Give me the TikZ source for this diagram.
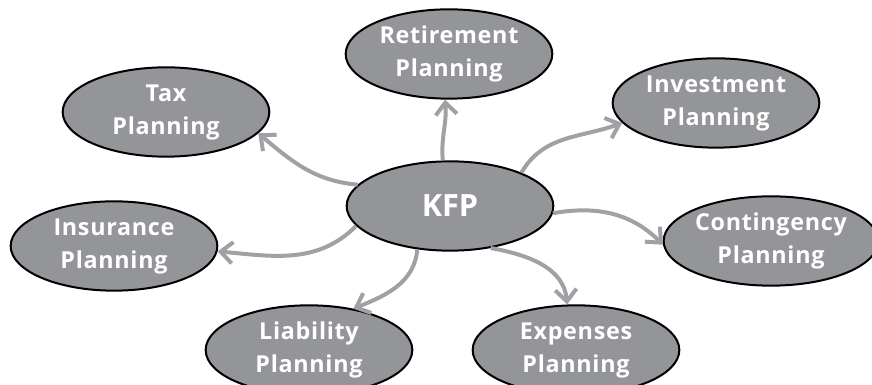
\documentclass[tikz,border=0pt]{standalone}
\usepackage{fontspec}
\usetikzlibrary{shapes.geometric,arrows.meta}
\newfontfamily\bubblefont{Open Sans}[LetterSpace=3]
\newfontfamily\hubfont{Open Sans}
\definecolor{bubblefill}{HTML}{949599}
\definecolor{linkgray}{HTML}{A0A1A4}
\begin{document}
\begin{tikzpicture}[x=0.75pt,y=0.75pt,
  bubble/.style={ellipse, draw=black, line width=1.5pt, fill=bubblefill,
    minimum width=155pt, minimum height=67pt, inner sep=0pt, text=white,
    align=center, font=\bubblefont\bfseries\fontsize{17.5}{24.75}\selectfont},
  hub/.style={bubble, font=\hubfont\bfseries\fontsize{23}{26}\selectfont},
  link/.style={draw=linkgray, line width=3pt,
    -{Straight Barb[length=9pt,width=16pt]}}]
\useasboundingbox (0,0) rectangle (872,385);

% central topic and the seven planning areas
\node[hub]    (kfp) at (450,179) {KFP};
\node[bubble] (ret) at (449,331) {Retirement\\Planning};
\node[bubble] (tax) at (166,273) {Tax\\Planning};
\node[bubble] (inv) at (716,282) {Investment\\Planning};
\node[bubble] (ins) at (114,139) {Insurance\\Planning};
\node[bubble] (con) at (771,144) {Contingency\\Planning};
\node[bubble] (lia) at (309,35)  {Liability\\Planning};
\node[bubble] (exp) at (576,35)  {Expenses\\Planning};

% curved links from the centre outwards
\draw[link] (kfp.167) to[out=175,in=-40] (tax.-13);
\draw[link] (kfp.99)  to[out=95,in=-85]  (ret.-95);
\draw[link] (kfp.25)  to[out=60,in=200]  (inv.-168);
\draw[link] (kfp.-4)  to[out=10,in=135]  (con.182);
\draw[link] (kfp.192) to[out=225,in=-5]  (ins.-3);
\draw[link] (kfp.233) to[out=-95,in=22]  (lia.43);
\draw[link] (kfp.-46) to[out=-10,in=95]  (exp.101);
\end{tikzpicture}
\end{document}
